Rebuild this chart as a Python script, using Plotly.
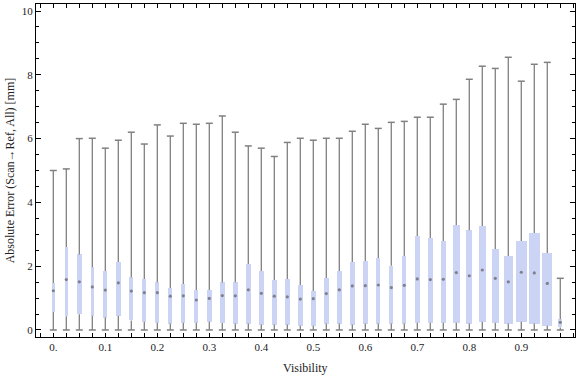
import plotly.graph_objects as go

visibility = [round(0.025 * i, 3) for i in range(40)]
whisker_low = [0.0] * 40
whisker_high = [5.00, 5.05, 6.00, 6.01, 5.70, 5.95, 6.20, 5.83, 6.43, 6.08,
                6.48, 6.45, 6.48, 6.71, 6.20, 5.77, 5.70, 5.44, 5.88, 6.01,
                5.95, 6.01, 6.01, 6.23, 6.45, 6.32, 6.51, 6.54, 6.67, 6.67,
                7.08, 7.23, 7.86, 8.27, 8.20, 8.55, 7.80, 8.33, 8.39, 1.62]
q1 = [0.56, 0.43, 0.49, 0.45, 0.39, 0.45, 0.30, 0.26, 0.23, 0.20,
      0.23, 0.23, 0.26, 0.22, 0.20, 0.20, 0.17, 0.17, 0.17, 0.13,
      0.13, 0.20, 0.20, 0.17, 0.20, 0.20, 0.20, 0.20, 0.23, 0.23,
      0.23, 0.23, 0.20, 0.26, 0.23, 0.20, 0.26, 0.20, 0.13, 0.08]
median = [1.23, 1.58, 1.51, 1.35, 1.25, 1.48, 1.22, 1.17, 1.17, 1.06,
          1.07, 0.94, 0.99, 1.08, 1.07, 1.26, 1.15, 1.06, 1.04, 0.97,
          0.98, 1.14, 1.26, 1.38, 1.39, 1.41, 1.33, 1.40, 1.60, 1.58,
          1.59, 1.80, 1.70, 1.88, 1.62, 1.51, 1.81, 1.79, 1.46, 0.24]
q3 = [1.47, 2.60, 2.37, 1.97, 1.85, 2.13, 1.65, 1.60, 1.50, 1.32,
      1.44, 1.25, 1.25, 1.49, 1.50, 2.07, 1.85, 1.57, 1.60, 1.41,
      1.22, 1.63, 1.85, 2.13, 2.16, 2.26, 2.01, 2.32, 2.95, 2.88,
      2.79, 3.29, 3.13, 3.26, 2.54, 2.32, 2.79, 3.04, 2.41, 0.34]
# relative box width (proportional to sample size), in visibility units
box_width = [0.0058, 0.0060, 0.0096, 0.0064, 0.0077, 0.0096, 0.0083, 0.0077, 0.0077, 0.0077,
             0.0077, 0.0077, 0.0106, 0.0096, 0.0096, 0.0096, 0.0096, 0.0096, 0.0096, 0.0096,
             0.0096, 0.0096, 0.0096, 0.0087, 0.0087, 0.0077, 0.0077, 0.0077, 0.0096, 0.0096,
             0.0096, 0.0129, 0.0121, 0.0135, 0.0135, 0.0167, 0.0212, 0.0212, 0.0192, 0.0077]

x_tick_vals = [0.0, 0.1, 0.2, 0.3, 0.4, 0.5, 0.6, 0.7, 0.8, 0.9]
x_tick_text = ["0.", "0.1", "0.2", "0.3", "0.4", "0.5", "0.6", "0.7", "0.8", "0.9"]
y_tick_vals = [0, 2, 4, 6, 8, 10]

WHISK = "#808080"
FILL = "rgb(204,212,245)"

# whisker segments (lower and upper, outside the box)
wx, wy = [], []
for x, lo, a, b, hi in zip(visibility, whisker_low, q1, q3, whisker_high):
    wx += [x, x, None, x, x, None]
    wy += [lo, a, None, b, hi, None]

fig = go.Figure()
fig.add_trace(go.Bar(x=visibility, y=[b - a for a, b in zip(q1, q3)], base=q1,
                     width=box_width, marker=dict(color=FILL, line=dict(width=0)),
                     hoverinfo="skip"))
fig.add_trace(go.Scatter(x=wx, y=wy, mode="lines",
                         line=dict(color=WHISK, width=1.3), hoverinfo="skip"))
fig.add_trace(go.Scatter(x=visibility + visibility, y=whisker_low + whisker_high,
                         mode="markers",
                         marker=dict(symbol="line-ew", size=5,
                                     line=dict(color=WHISK, width=1.5)),
                         hoverinfo="skip"))
fig.add_trace(go.Scatter(x=visibility, y=median, mode="markers",
                         marker=dict(symbol="circle", size=3.2, color="#80808e"),
                         hoverinfo="skip"))

serif = "Liberation Serif, Times New Roman, serif"
fig.update_layout(
    width=576, height=377,
    margin=dict(l=36, r=1, t=4, b=40, autoexpand=False),
    paper_bgcolor="white", plot_bgcolor="white",
    showlegend=False, bargap=0,
    font=dict(family=serif, size=12, color="#222"),
    annotations=[
        dict(text="Visibility", xref="paper", yref="paper", x=0.5, y=-0.092,
             xanchor="center", yanchor="middle", showarrow=False,
             font=dict(family=serif, size=12, color="#222")),
        dict(text="Absolute Error (Scan→Ref, All) [mm]", xref="paper", yref="paper",
             x=-0.0485, y=0.5, xanchor="center", yanchor="middle", textangle=-90,
             showarrow=False, font=dict(family=serif, size=12, color="#222")),
    ],
)
fig.update_xaxes(
    range=[-0.0333, 1.0033], showgrid=False, zeroline=False, automargin=False,
    showline=True, linecolor="black", linewidth=1, mirror="allticks",
    ticks="inside", ticklen=4, tickcolor="black", tickwidth=1,
    tickvals=x_tick_vals, ticktext=x_tick_text, tickfont=dict(size=11),
    minor=dict(dtick=0.025, tick0=0, ticks="inside", ticklen=4, tickcolor="black", showgrid=False),
)
fig.update_yaxes(
    range=[-0.22, 10.22], showgrid=False, zeroline=False, automargin=False,
    showline=True, linecolor="black", linewidth=1, mirror="allticks",
    ticks="inside", ticklen=5, tickcolor="black", tickwidth=1,
    tickvals=y_tick_vals, tickfont=dict(size=11),
    minor=dict(dtick=0.5, tick0=0, ticks="inside", ticklen=3, tickcolor="black", showgrid=False),
)

fig.write_html("out.html", config={"displayModeBar": False, "staticPlot": True},
               post_script="document.body.style.margin='0';document.body.style.overflow='hidden';")
